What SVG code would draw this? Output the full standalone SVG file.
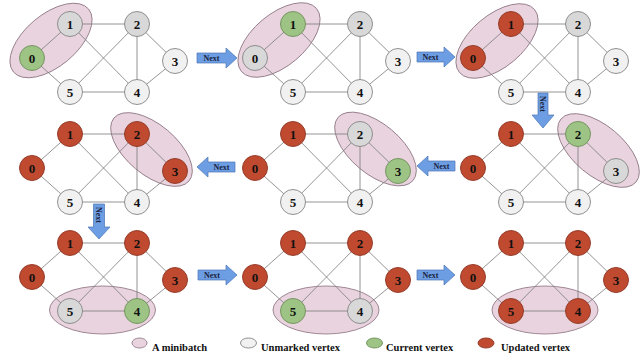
<svg xmlns="http://www.w3.org/2000/svg" width="642" height="355" viewBox="0 0 642 355">
<style>
.bg{fill:#ffffff}
.mb{fill:#e8d3de;stroke:#957d8a;stroke-width:0.9}
.e{stroke:#7a7a7a;stroke-width:0.8;fill:none}
.u{fill:#f1f1f1;stroke:#848484;stroke-width:0.9}
.d{fill:#d8d8d8;stroke:#848484;stroke-width:0.9}
.g{fill:#9dc484;stroke:#6e8f5a;stroke-width:0.9}
.r{fill:#bf4a30;stroke:#8e3522;stroke-width:0.9}
.lb{font-family:"Liberation Serif","Times New Roman",serif;font-weight:bold;font-size:13px;fill:#111;text-anchor:middle}
.ar{fill:#6d9de2;stroke:#4b76b6;stroke-width:0.7}
.nx{font-family:"Liberation Serif","Times New Roman",serif;font-weight:bold;font-size:8px;fill:#1b2440;text-anchor:middle}
.lg{font-family:"Liberation Serif","Times New Roman",serif;font-weight:bold;font-size:10.5px;fill:#111}
</style>
<rect class="bg" x="0" y="0" width="642" height="355"/>

<!-- Panel 1 -->
<g id="panel1" transform="translate(0,0)">
<ellipse class="mb" cx="51" cy="40.5" rx="49" ry="26" transform="rotate(-40 51 40.5)"/>
<g id="p1-connectors"><line class="e" x1="32" y1="58" x2="70" y2="24"/><line class="e" x1="32" y1="58" x2="70" y2="92"/><line class="e" x1="70" y1="24" x2="137" y2="24"/><line class="e" x1="70" y1="24" x2="137" y2="92"/><line class="e" x1="137" y1="24" x2="70" y2="92"/><line class="e" x1="137" y1="24" x2="137" y2="92"/><line class="e" x1="137" y1="24" x2="175" y2="61"/><line class="e" x1="175" y1="61" x2="137" y2="92"/><line class="e" x1="70" y1="92" x2="137" y2="92"/></g>
<g id="p1-n0"><circle class="g" cx="32" cy="58" r="12.5"/><text class="lb" x="32" y="62.5">0</text></g>
<g id="p1-n1"><circle class="d" cx="70" cy="24" r="12.5"/><text class="lb" x="70" y="28.5">1</text></g>
<g id="p1-n2"><circle class="d" cx="137" cy="24" r="12.5"/><text class="lb" x="137" y="28.5">2</text></g>
<g id="p1-n3"><circle class="u" cx="175" cy="61" r="12.5"/><text class="lb" x="175" y="65.5">3</text></g>
<g id="p1-n4"><circle class="u" cx="137" cy="92" r="12.5"/><text class="lb" x="137" y="96.5">4</text></g>
<g id="p1-n5"><circle class="u" cx="70" cy="92" r="12.5"/><text class="lb" x="70" y="96.5">5</text></g>
</g>

<!-- Panel 2 -->
<g id="panel2" transform="translate(223,0)">
<ellipse class="mb" cx="56" cy="40" rx="49" ry="26" transform="rotate(-40 56 40)"/>
<g id="p2-connectors"><line class="e" x1="32" y1="58" x2="70" y2="24"/><line class="e" x1="32" y1="58" x2="70" y2="92"/><line class="e" x1="70" y1="24" x2="137" y2="24"/><line class="e" x1="70" y1="24" x2="137" y2="92"/><line class="e" x1="137" y1="24" x2="70" y2="92"/><line class="e" x1="137" y1="24" x2="137" y2="92"/><line class="e" x1="137" y1="24" x2="175" y2="61"/><line class="e" x1="175" y1="61" x2="137" y2="92"/><line class="e" x1="70" y1="92" x2="137" y2="92"/></g>
<g id="p2-n0"><circle class="d" cx="32" cy="58" r="12.5"/><text class="lb" x="32" y="62.5">0</text></g>
<g id="p2-n1"><circle class="g" cx="70" cy="24" r="12.5"/><text class="lb" x="70" y="28.5">1</text></g>
<g id="p2-n2"><circle class="d" cx="137" cy="24" r="12.5"/><text class="lb" x="137" y="28.5">2</text></g>
<g id="p2-n3"><circle class="u" cx="175" cy="61" r="12.5"/><text class="lb" x="175" y="65.5">3</text></g>
<g id="p2-n4"><circle class="u" cx="137" cy="92" r="12.5"/><text class="lb" x="137" y="96.5">4</text></g>
<g id="p2-n5"><circle class="u" cx="70" cy="92" r="12.5"/><text class="lb" x="70" y="96.5">5</text></g>
</g>

<!-- Panel 3 -->
<g id="panel3" transform="translate(441,0)">
<ellipse class="mb" cx="56" cy="41" rx="49" ry="26" transform="rotate(-40 56 41)"/>
<g id="p3-connectors"><line class="e" x1="32" y1="58" x2="70" y2="24"/><line class="e" x1="32" y1="58" x2="70" y2="92"/><line class="e" x1="70" y1="24" x2="137" y2="24"/><line class="e" x1="70" y1="24" x2="137" y2="92"/><line class="e" x1="137" y1="24" x2="70" y2="92"/><line class="e" x1="137" y1="24" x2="137" y2="92"/><line class="e" x1="137" y1="24" x2="175" y2="61"/><line class="e" x1="175" y1="61" x2="137" y2="92"/><line class="e" x1="70" y1="92" x2="137" y2="92"/></g>
<g id="p3-n0"><circle class="r" cx="32" cy="58" r="12.5"/><text class="lb" x="32" y="62.5">0</text></g>
<g id="p3-n1"><circle class="r" cx="70" cy="24" r="12.5"/><text class="lb" x="70" y="28.5">1</text></g>
<g id="p3-n2"><circle class="d" cx="137" cy="24" r="12.5"/><text class="lb" x="137" y="28.5">2</text></g>
<g id="p3-n3"><circle class="u" cx="175" cy="61" r="12.5"/><text class="lb" x="175" y="65.5">3</text></g>
<g id="p3-n4"><circle class="u" cx="137" cy="92" r="12.5"/><text class="lb" x="137" y="96.5">4</text></g>
<g id="p3-n5"><circle class="u" cx="70" cy="92" r="12.5"/><text class="lb" x="70" y="96.5">5</text></g>
</g>

<!-- Panel 4 -->
<g id="panel4" transform="translate(0,110)">
<ellipse class="mb" cx="151.5" cy="39.5" rx="49" ry="25" transform="rotate(40 151.5 39.5)"/>
<g id="p4-connectors"><line class="e" x1="32" y1="58" x2="70" y2="24"/><line class="e" x1="32" y1="58" x2="70" y2="92"/><line class="e" x1="70" y1="24" x2="137" y2="24"/><line class="e" x1="70" y1="24" x2="137" y2="92"/><line class="e" x1="137" y1="24" x2="70" y2="92"/><line class="e" x1="137" y1="24" x2="137" y2="92"/><line class="e" x1="137" y1="24" x2="175" y2="61"/><line class="e" x1="175" y1="61" x2="137" y2="92"/><line class="e" x1="70" y1="92" x2="137" y2="92"/></g>
<g id="p4-n0"><circle class="r" cx="32" cy="58" r="12.5"/><text class="lb" x="32" y="62.5">0</text></g>
<g id="p4-n1"><circle class="r" cx="70" cy="24" r="12.5"/><text class="lb" x="70" y="28.5">1</text></g>
<g id="p4-n2"><circle class="r" cx="137" cy="24" r="12.5"/><text class="lb" x="137" y="28.5">2</text></g>
<g id="p4-n3"><circle class="r" cx="175" cy="61" r="12.5"/><text class="lb" x="175" y="65.5">3</text></g>
<g id="p4-n4"><circle class="u" cx="137" cy="92" r="12.5"/><text class="lb" x="137" y="96.5">4</text></g>
<g id="p4-n5"><circle class="u" cx="70" cy="92" r="12.5"/><text class="lb" x="70" y="96.5">5</text></g>
</g>

<!-- Panel 5 -->
<g id="panel5" transform="translate(223,110)">
<ellipse class="mb" cx="152.5" cy="39" rx="49" ry="25" transform="rotate(40 152.5 39)"/>
<g id="p5-connectors"><line class="e" x1="32" y1="58" x2="70" y2="24"/><line class="e" x1="32" y1="58" x2="70" y2="92"/><line class="e" x1="70" y1="24" x2="137" y2="24"/><line class="e" x1="70" y1="24" x2="137" y2="92"/><line class="e" x1="137" y1="24" x2="70" y2="92"/><line class="e" x1="137" y1="24" x2="137" y2="92"/><line class="e" x1="137" y1="24" x2="175" y2="61"/><line class="e" x1="175" y1="61" x2="137" y2="92"/><line class="e" x1="70" y1="92" x2="137" y2="92"/></g>
<g id="p5-n0"><circle class="r" cx="32" cy="58" r="12.5"/><text class="lb" x="32" y="62.5">0</text></g>
<g id="p5-n1"><circle class="r" cx="70" cy="24" r="12.5"/><text class="lb" x="70" y="28.5">1</text></g>
<g id="p5-n2"><circle class="d" cx="137" cy="24" r="12.5"/><text class="lb" x="137" y="28.5">2</text></g>
<g id="p5-n3"><circle class="g" cx="175" cy="61" r="12.5"/><text class="lb" x="175" y="65.5">3</text></g>
<g id="p5-n4"><circle class="u" cx="137" cy="92" r="12.5"/><text class="lb" x="137" y="96.5">4</text></g>
<g id="p5-n5"><circle class="u" cx="70" cy="92" r="12.5"/><text class="lb" x="70" y="96.5">5</text></g>
</g>

<!-- Panel 6 -->
<g id="panel6" transform="translate(441,110)">
<ellipse class="mb" cx="157.5" cy="40.5" rx="49" ry="25" transform="rotate(40 157.5 40.5)"/>
<g id="p6-connectors"><line class="e" x1="32" y1="58" x2="70" y2="24"/><line class="e" x1="32" y1="58" x2="70" y2="92"/><line class="e" x1="70" y1="24" x2="137" y2="24"/><line class="e" x1="70" y1="24" x2="137" y2="92"/><line class="e" x1="137" y1="24" x2="70" y2="92"/><line class="e" x1="137" y1="24" x2="137" y2="92"/><line class="e" x1="137" y1="24" x2="175" y2="61"/><line class="e" x1="175" y1="61" x2="137" y2="92"/><line class="e" x1="70" y1="92" x2="137" y2="92"/></g>
<g id="p6-n0"><circle class="r" cx="32" cy="58" r="12.5"/><text class="lb" x="32" y="62.5">0</text></g>
<g id="p6-n1"><circle class="r" cx="70" cy="24" r="12.5"/><text class="lb" x="70" y="28.5">1</text></g>
<g id="p6-n2"><circle class="g" cx="137" cy="24" r="12.5"/><text class="lb" x="137" y="28.5">2</text></g>
<g id="p6-n3"><circle class="d" cx="175" cy="61" r="12.5"/><text class="lb" x="175" y="65.5">3</text></g>
<g id="p6-n4"><circle class="u" cx="137" cy="92" r="12.5"/><text class="lb" x="137" y="96.5">4</text></g>
<g id="p6-n5"><circle class="u" cx="70" cy="92" r="12.5"/><text class="lb" x="70" y="96.5">5</text></g>
</g>

<!-- Panel 7 -->
<g id="panel7" transform="translate(0,219)">
<ellipse class="mb" cx="102.5" cy="91" rx="53" ry="24"/>
<g id="p7-connectors"><line class="e" x1="32" y1="58" x2="70" y2="24"/><line class="e" x1="32" y1="58" x2="70" y2="92"/><line class="e" x1="70" y1="24" x2="137" y2="24"/><line class="e" x1="70" y1="24" x2="137" y2="92"/><line class="e" x1="137" y1="24" x2="70" y2="92"/><line class="e" x1="137" y1="24" x2="137" y2="92"/><line class="e" x1="137" y1="24" x2="175" y2="61"/><line class="e" x1="175" y1="61" x2="137" y2="92"/><line class="e" x1="70" y1="92" x2="137" y2="92"/></g>
<g id="p7-n0"><circle class="r" cx="32" cy="58" r="12.5"/><text class="lb" x="32" y="62.5">0</text></g>
<g id="p7-n1"><circle class="r" cx="70" cy="24" r="12.5"/><text class="lb" x="70" y="28.5">1</text></g>
<g id="p7-n2"><circle class="r" cx="137" cy="24" r="12.5"/><text class="lb" x="137" y="28.5">2</text></g>
<g id="p7-n3"><circle class="r" cx="175" cy="61" r="12.5"/><text class="lb" x="175" y="65.5">3</text></g>
<g id="p7-n4"><circle class="g" cx="137" cy="92" r="12.5"/><text class="lb" x="137" y="96.5">4</text></g>
<g id="p7-n5"><circle class="d" cx="70" cy="92" r="12.5"/><text class="lb" x="70" y="96.5">5</text></g>
</g>

<!-- Panel 8 -->
<g id="panel8" transform="translate(223,219)">
<ellipse class="mb" cx="103" cy="91" rx="53" ry="24"/>
<g id="p8-connectors"><line class="e" x1="32" y1="58" x2="70" y2="24"/><line class="e" x1="32" y1="58" x2="70" y2="92"/><line class="e" x1="70" y1="24" x2="137" y2="24"/><line class="e" x1="70" y1="24" x2="137" y2="92"/><line class="e" x1="137" y1="24" x2="70" y2="92"/><line class="e" x1="137" y1="24" x2="137" y2="92"/><line class="e" x1="137" y1="24" x2="175" y2="61"/><line class="e" x1="175" y1="61" x2="137" y2="92"/><line class="e" x1="70" y1="92" x2="137" y2="92"/></g>
<g id="p8-n0"><circle class="r" cx="32" cy="58" r="12.5"/><text class="lb" x="32" y="62.5">0</text></g>
<g id="p8-n1"><circle class="r" cx="70" cy="24" r="12.5"/><text class="lb" x="70" y="28.5">1</text></g>
<g id="p8-n2"><circle class="r" cx="137" cy="24" r="12.5"/><text class="lb" x="137" y="28.5">2</text></g>
<g id="p8-n3"><circle class="r" cx="175" cy="61" r="12.5"/><text class="lb" x="175" y="65.5">3</text></g>
<g id="p8-n4"><circle class="d" cx="137" cy="92" r="12.5"/><text class="lb" x="137" y="96.5">4</text></g>
<g id="p8-n5"><circle class="g" cx="70" cy="92" r="12.5"/><text class="lb" x="70" y="96.5">5</text></g>
</g>

<!-- Panel 9 -->
<g id="panel9" transform="translate(441,219)">
<ellipse class="mb" cx="104" cy="91" rx="53" ry="24"/>
<g id="p9-connectors"><line class="e" x1="32" y1="58" x2="70" y2="24"/><line class="e" x1="32" y1="58" x2="70" y2="92"/><line class="e" x1="70" y1="24" x2="137" y2="24"/><line class="e" x1="70" y1="24" x2="137" y2="92"/><line class="e" x1="137" y1="24" x2="70" y2="92"/><line class="e" x1="137" y1="24" x2="137" y2="92"/><line class="e" x1="137" y1="24" x2="175" y2="61"/><line class="e" x1="175" y1="61" x2="137" y2="92"/><line class="e" x1="70" y1="92" x2="137" y2="92"/></g>
<g id="p9-n0"><circle class="r" cx="32" cy="58" r="12.5"/><text class="lb" x="32" y="62.5">0</text></g>
<g id="p9-n1"><circle class="r" cx="70" cy="24" r="12.5"/><text class="lb" x="70" y="28.5">1</text></g>
<g id="p9-n2"><circle class="r" cx="137" cy="24" r="12.5"/><text class="lb" x="137" y="28.5">2</text></g>
<g id="p9-n3"><circle class="r" cx="175" cy="61" r="12.5"/><text class="lb" x="175" y="65.5">3</text></g>
<g id="p9-n4"><circle class="r" cx="137" cy="92" r="12.5"/><text class="lb" x="137" y="96.5">4</text></g>
<g id="p9-n5"><circle class="r" cx="70" cy="92" r="12.5"/><text class="lb" x="70" y="96.5">5</text></g>
</g>

<!-- Next arrows -->
<g id="next-arrows">
<g id="arrow1"><path class="ar" d="M197,53 H226 V48 L237,58 L226,68 V63 H197 Z"/><text class="nx" x="211.5" y="61">Next</text></g>
<g id="arrow2"><path class="ar" d="M417,52 H444 V47 L455,57 L444,67 V62 H417 Z"/><text class="nx" x="430.5" y="60">Next</text></g>
<g id="arrow3"><path class="ar" d="M538,93 V115 H532 L543,128 L554,115 H548 V93 Z"/><text class="nx" transform="translate(543,104) rotate(90)" x="0" y="3">Next</text></g>
<g id="arrow4"><path class="ar" d="M455,161 H428 V156 L417,166 L428,176 V171 H455 Z"/><text class="nx" x="441.5" y="169">Next</text></g>
<g id="arrow5"><path class="ar" d="M235,162 H208 V157 L197,167 L208,177 V172 H235 Z"/><text class="nx" x="221.5" y="170">Next</text></g>
<g id="arrow6"><path class="ar" d="M93.5,204 V227 H88 L99,239 L110,227 H104.5 V204 Z"/><text class="nx" transform="translate(99,215) rotate(90)" x="0" y="3">Next</text></g>
<g id="arrow7"><path class="ar" d="M198,270 H226 V265 L237,275 L226,285 V280 H198 Z"/><text class="nx" x="212" y="278">Next</text></g>
<g id="arrow8"><path class="ar" d="M417,270 H444 V265 L455,275 L444,285 V280 H417 Z"/><text class="nx" x="430.5" y="278">Next</text></g>
</g>

<!-- Legend -->
<g id="legend">
<g id="lg-minibatch"><ellipse class="mb" cx="139.5" cy="343" rx="7.5" ry="5"/><text class="lg" x="152" y="351">A minibatch</text></g>
<g id="lg-unmarked"><ellipse class="u" cx="248.5" cy="343" rx="8" ry="5"/><text class="lg" x="261" y="351">Unmarked vertex</text></g>
<g id="lg-current"><ellipse class="g" cx="374.5" cy="343" rx="8" ry="5"/><text class="lg" x="386" y="351">Current vertex</text></g>
<g id="lg-updated"><ellipse class="r" cx="486" cy="343" rx="8" ry="5"/><text class="lg" x="501" y="351">Updated vertex</text></g>
</g>
</svg>
